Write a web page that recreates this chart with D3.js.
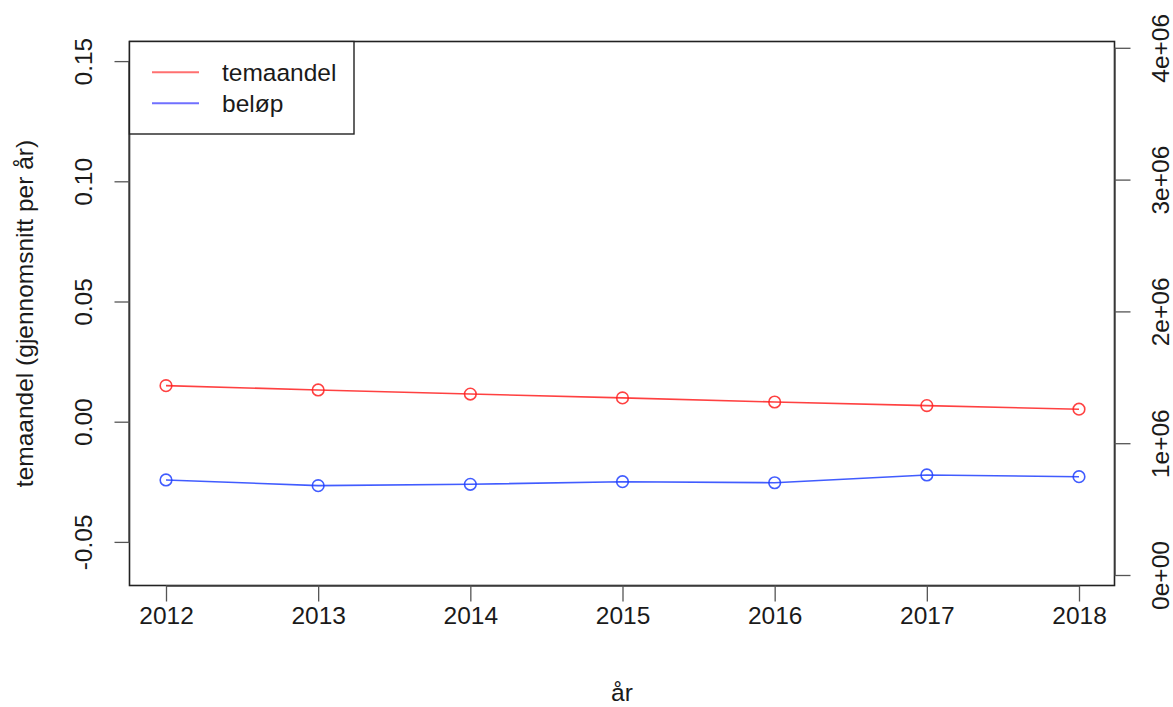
<!DOCTYPE html>
<html><head><meta charset="utf-8">
<script src="https://cdn.jsdelivr.net/npm/d3@7"></script>
<style>body{margin:0;background:#fff}svg{display:block}text{font-family:"Liberation Sans",Arial,Helvetica,sans-serif;fill:#1a1a1a}</style>
</head><body>
<svg id="c" width="1173" height="707"></svg>
<script>
const years = [2012, 2013, 2014, 2015, 2016, 2017, 2018];
const temaandel = [0.0150, 0.0132, 0.0115, 0.0099, 0.0082, 0.0067, 0.0052];
const belop = [721000, 678000, 688000, 708000, 700000, 759000, 746000];
const leftTicks = [-0.05, 0.00, 0.05, 0.10, 0.15];
const leftTickLabels = ["-0.05", "0.00", "0.05", "0.10", "0.15"];
const rightTicks = [0, 1e6, 2e6, 3e6, 4e6];
const rightTickLabels = ["0e+00", "1e+06", "2e+06", "3e+06", "4e+06"];
const seriesNames = ["temaandel", "beløp"];
const xLabel = "år";
const yLabel = "temaandel (gjennomsnitt per år)";

const W = 1173, H = 707;
const box = {l: 129.5, r: 1114.5, t: 41.5, b: 585.5};
const svg = d3.select("#c");
const fs = 24.5;

const x = d3.scaleLinear().domain([2012, 2018]).range([166, 1079]);
const yL = d3.scaleLinear().domain([0, 0.05]).range([421.7, 301.5]);
const yR = d3.scaleLinear().domain([0, 1e6]).range([575, 443.2]);

svg.append("rect").attr("x", box.l).attr("y", box.t).attr("width", box.r - box.l).attr("height", box.b - box.t)
  .attr("fill", "none").attr("stroke", "#222").attr("stroke-width", 1.6);

const xAx = d3.axisBottom(x).tickValues(years).tickFormat(d3.format("d")).tickSize(16).tickPadding(20);
const gx = svg.append("g").attr("transform", `translate(0,${box.b})`).call(xAx);
gx.select(".domain").attr("d", `M${x(2012)},0.5H${x(2018)}`).attr("stroke", "#444").attr("stroke-width", 1.3);
gx.selectAll(".tick line").attr("stroke", "#555").attr("stroke-width", 1.3);
gx.selectAll(".tick text").attr("font-size", fs).attr("fill", "#1a1a1a").attr("dy", "0.71em").attr("y", 21);

const yAxL = d3.axisLeft(yL).tickValues(leftTicks).tickFormat((d, i) => leftTickLabels[i]).tickSize(15);
const gl = svg.append("g").attr("transform", `translate(${box.l},0)`).call(yAxL);
gl.select(".domain").attr("d", `M-0.5,${yL(-0.05)}V${yL(0.15)}`).attr("stroke", "#444").attr("stroke-width", 1.3);
gl.selectAll(".tick line").attr("stroke", "#555").attr("stroke-width", 1.3);
gl.selectAll(".tick text").attr("font-size", fs).attr("fill", "#1a1a1a")
  .attr("transform", "rotate(-90)").attr("x", 0).attr("y", -38).attr("dy", 0).attr("text-anchor", "middle");

const yAxR = d3.axisRight(yR).tickValues(rightTicks).tickFormat((d, i) => rightTickLabels[i]).tickSize(16);
const gr = svg.append("g").attr("transform", `translate(${box.r},0)`).call(yAxR);
gr.select(".domain").attr("d", `M0.5,${yR(0)}V${yR(4e6)}`).attr("stroke", "#444").attr("stroke-width", 1.3);
gr.selectAll(".tick line").attr("stroke", "#555").attr("stroke-width", 1.3);
gr.selectAll(".tick text").attr("font-size", fs).attr("fill", "#1a1a1a")
  .attr("transform", "rotate(-90)").attr("x", 0).attr("y", 54).attr("dy", 0).attr("text-anchor", "middle");

svg.append("text").attr("x", (box.l + box.r) / 2).attr("y", 701).attr("text-anchor", "middle").attr("font-size", fs).text(xLabel);
svg.append("text").attr("transform", `translate(33,${(box.t + box.b) / 2}) rotate(-90)`).attr("text-anchor", "middle")
  .attr("font-size", fs).text(yLabel);

const redC = "#ff2020", blueC = "#2040ff";
const line = (ys, vals) => d3.line().x((d, i) => x(years[i])).y(d => ys(d))(vals);
svg.append("path").attr("d", line(yL, temaandel)).attr("fill", "none").attr("stroke", redC).attr("stroke-width", 1.6).attr("stroke-opacity", 0.85);
svg.append("path").attr("d", line(yR, belop)).attr("fill", "none").attr("stroke", blueC).attr("stroke-width", 1.6).attr("stroke-opacity", 0.85);
svg.selectAll("circle.r").data(temaandel).join("circle").attr("class", "r")
  .attr("cx", (d, i) => x(years[i])).attr("cy", d => yL(d)).attr("r", 5.8)
  .attr("fill", "none").attr("stroke", redC).attr("stroke-width", 1.6).attr("stroke-opacity", 0.85);
svg.selectAll("circle.b").data(belop).join("circle").attr("class", "b")
  .attr("cx", (d, i) => x(years[i])).attr("cy", d => yR(d)).attr("r", 5.8)
  .attr("fill", "none").attr("stroke", blueC).attr("stroke-width", 1.6).attr("stroke-opacity", 0.85);

const lg = svg.append("g");
lg.append("rect").attr("x", box.l).attr("y", box.t).attr("width", 354 - box.l).attr("height", 134 - box.t)
  .attr("fill", "#fff").attr("stroke", "#222").attr("stroke-width", 1.4);
const legCols = ["#ff7070", "#7070ff"];
const legY = [72.3, 103.3];
seriesNames.forEach((n, i) => {
  lg.append("line").attr("x1", 152).attr("x2", 199).attr("y1", legY[i]).attr("y2", legY[i])
    .attr("stroke", legCols[i]).attr("stroke-width", 2);
  lg.append("text").attr("x", 222).attr("y", legY[i]).attr("dy", "0.35em").attr("font-size", fs).text(n);
});
</script>
</body></html>
